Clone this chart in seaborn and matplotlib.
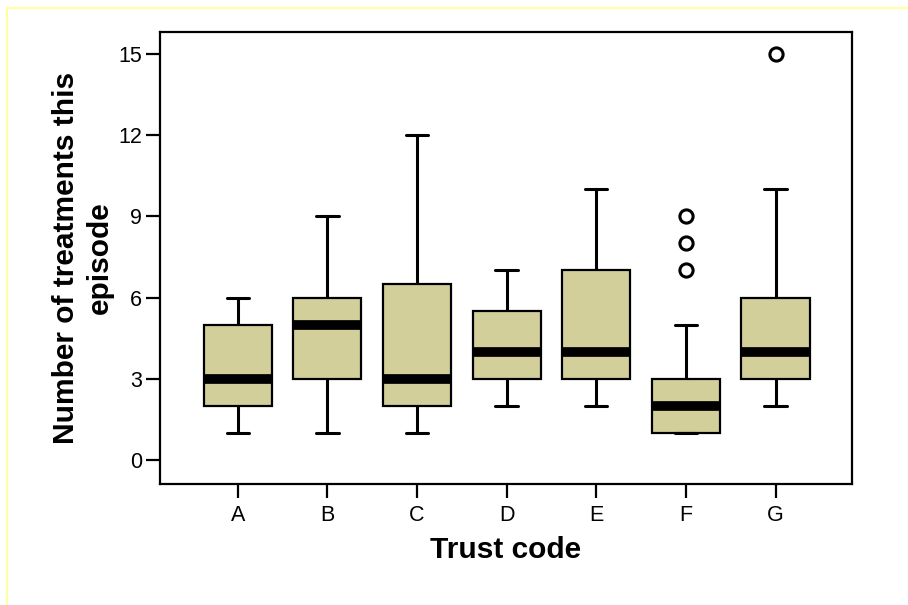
import matplotlib
matplotlib.use("Agg")
import matplotlib.pyplot as plt
from matplotlib.lines import Line2D
import seaborn as sns
import pandas as pd

# Treatment counts per trust (small samples giving each trust's quartiles,
# whisker ends and outlying episodes)
trusts = ["A", "B", "C", "D", "E", "F", "G"]
trust_a = [1, 2, 3, 5, 6]
trust_b = [1, 3, 5, 6, 9]
trust_c = [1, 2, 3, 6.5, 12]
trust_d = [2, 3, 4, 5.5, 7]
trust_e = [2, 3, 4, 7, 10]
trust_f = [1, 1, 1, 1, 1, 1, 2, 2, 2, 2, 3, 3, 3, 5, 7, 8, 9]
trust_g = [2, 3, 3, 4, 4, 6, 6, 10, 15]
y_ticks = [0, 3, 6, 9, 12, 15]

samples = [trust_a, trust_b, trust_c, trust_d, trust_e, trust_f, trust_g]
df = pd.DataFrame({
    "Trust": [t for t, s in zip(trusts, samples) for _ in s],
    "Treatments": [v for s in samples for v in s],
})

sns.set_style("white")
plt.rcParams["font.family"] = ["Liberation Sans", "DejaVu Sans"]
plt.rcParams["text.color"] = "black"
plt.rcParams["axes.labelcolor"] = "black"

fig = plt.figure(figsize=(9.08, 6.05), dpi=100)
ax = fig.add_axes([0.176, 0.2, 0.762, 0.747])

sns.boxplot(
    data=df, x="Trust", y="Treatments", order=trusts, ax=ax,
    color="#D3CF9A", saturation=1, width=0.76, linecolor="black",
    linewidth=1.6, whis=1.5, capwidths=0.25,
    medianprops=dict(color="black", linewidth=7, solid_capstyle="butt"),
    whiskerprops=dict(color="black", linewidth=2.2),
    capprops=dict(color="black", linewidth=2.2),
    flierprops=dict(marker="o", markersize=9.5, markerfacecolor="none",
                    markeredgecolor="black", markeredgewidth=2.2),
)

ax.set_xlim(-0.87, 6.85)
ax.set_ylim(-0.89, 15.81)
ax.set_yticks(y_ticks)
ax.set_yticklabels([str(v) for v in y_ticks])

for side in ["left", "right", "top", "bottom"]:
    ax.spines[side].set_visible(True)
    ax.spines[side].set_color("black")
    ax.spines[side].set_linewidth(1.6)

ax.tick_params(axis="both", which="major", direction="out", length=10,
               width=1.6, color="black", labelsize=15.5, labelcolor="black",
               bottom=True, left=True, top=False, right=False)
ax.tick_params(axis="x", pad=5)
ax.tick_params(axis="y", pad=3)
ax.grid(False)

ax.set_xlabel("Trust code", fontsize=21.5, fontweight="bold", labelpad=7,
              color="black")
ax.set_ylabel("Number of treatments this\nepisode", fontsize=21.5,
              fontweight="bold", labelpad=3, linespacing=1.25, color="black")

# thin pale-yellow frame around the chart area
fig.add_artist(Line2D([7 / 908, 7 / 908], [1 - 8 / 605, 0], transform=fig.transFigure,
                      color="#FFFFA8", linewidth=1.6))
fig.add_artist(Line2D([7 / 908, 1], [1 - 8 / 605, 1 - 8 / 605], transform=fig.transFigure,
                      color="#FFFFA8", linewidth=1.6))

fig.savefig("out.png", dpi=100, facecolor="white")
